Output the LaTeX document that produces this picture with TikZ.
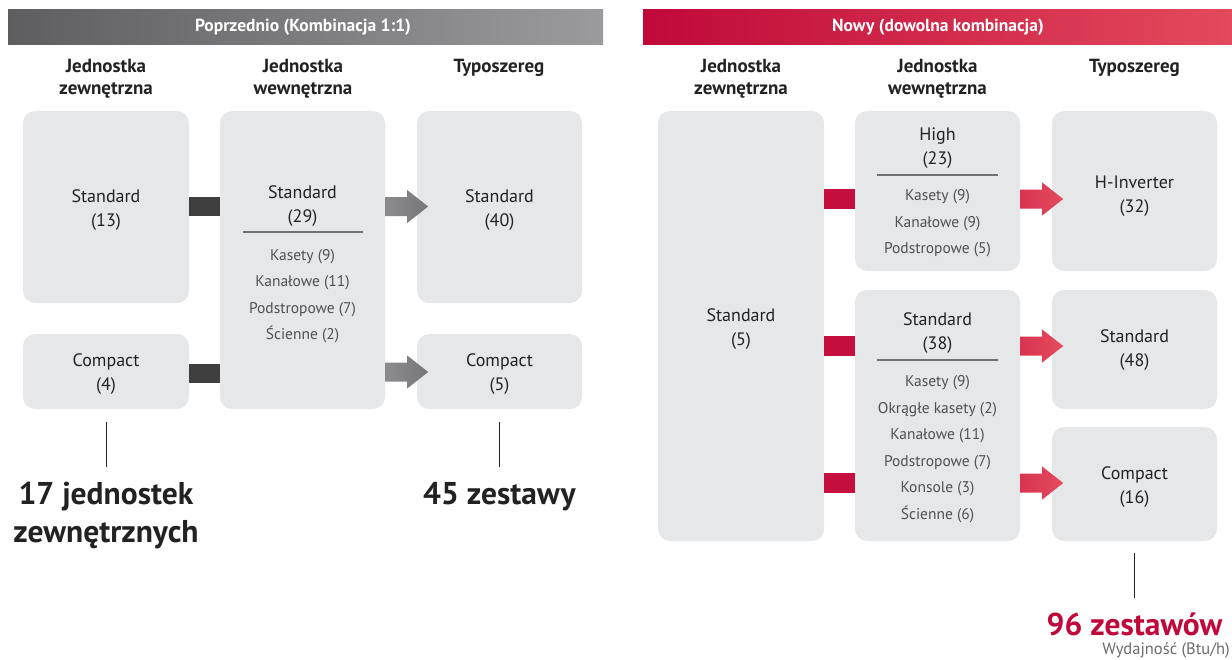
\documentclass[tikz,border=0pt]{standalone}
\usepackage{fontspec}
\setmainfont{PT Sans}
\usetikzlibrary{calc}
\definecolor{boxgray}{HTML}{E6E7E9}
\definecolor{txtdark}{HTML}{222222}
\definecolor{txtitem}{HTML}{505050}
\definecolor{lgred}{HTML}{C0093A}
\definecolor{hdrdark}{HTML}{5E5E60}
\definecolor{hdrlight}{HTML}{9B9B9D}
\definecolor{hdrred1}{HTML}{C0093A}
\definecolor{hdrred2}{HTML}{E34A5C}
\definecolor{barDark}{HTML}{3F3F3F}
\definecolor{arrgray1}{HTML}{8C8C8E}
\definecolor{arrgray2}{HTML}{77777A}
\definecolor{redarr1}{HTML}{D83452}
\definecolor{redarr2}{HTML}{E54B5D}
\definecolor{redbar}{HTML}{C50F3E}
\definecolor{divline}{HTML}{707070}
\definecolor{notegray}{HTML}{6A6A6A}
\newcommand{\fatarrow}[3]{%
  \shade[left color=#2,right color=#3] (#1) ++(0,-9.5) -- ++(22,0) -- ++(0,-7) -- ++(21,16.5) -- ++(-21,16.5) -- ++(0,-7) -- ++(-22,0) -- cycle;}
\tikzset{
  unitbox/.style={fill=boxgray, rounded corners=12pt, inner sep=0pt, draw=none},
  colhead/.style={font=\fontsize{19}{22}\selectfont\bfseries, text=txtdark, align=center},
  boxlabel/.style={font=\fontsize{18}{24}\selectfont, text=txtdark, align=center},
  itemtxt/.style={font=\fontsize{15.5}{26.5}\selectfont, text=txtitem, align=center},
  hdrtxt/.style={font=\fontsize{17.5}{18}\selectfont\bfseries, text=white},
  bigtxt/.style={font=\fontsize{31.5}{38}\selectfont\bfseries, text=txtdark, align=center},
  linkbar/.style={line width=19pt, draw=barDark},
  redlink/.style={line width=20pt, draw=redbar},
  divider/.style={draw=divline, line width=1.3pt},
  leader/.style={draw=txtdark, line width=1pt},
}
\begin{document}
\begin{tikzpicture}[x=1pt,y=-1pt]
\useasboundingbox (0,0) rectangle (1232,659);
% ---------- header bars
\shade[left color=hdrdark, right color=hdrlight] (8,9) rectangle (603,44);
\node[hdrtxt] (hL) at (303,27) {Poprzednio (Kombinacja 1:1)};
\shade[left color=hdrred1, right color=hdrred2] (643,9) rectangle (1232,44);
\node[hdrtxt] (hR) at (938,27) {Nowy (dowolna kombinacja)};
% ---------- column headings
\node[colhead] (cL1) at (106,79) {Jednostka\\zewnętrzna};
\node[colhead] (cL2) at (303,79) {Jednostka\\wewnętrzna};
\node[colhead] (cL3) at (499,68) {Typoszereg};
\node[colhead] (cR1) at (741,79) {Jednostka\\zewnętrzna};
\node[colhead] (cR2) at (937.5,79) {Jednostka\\wewnętrzna};
\node[colhead] (cR3) at (1134.5,68) {Typoszereg};
% ---------- LEFT boxes
\node[unitbox, minimum width=166pt, minimum height=192pt] (lo1) at (106,207) {};
\node[boxlabel] at ($(lo1)+(0,3)$) {Standard\\(13)};
\node[unitbox, minimum width=166pt, minimum height=75pt] (lo2) at (106,371.5) {};
\node[boxlabel] at ($(lo2)+(0,2.5)$) {Compact\\(4)};
\node[unitbox, minimum width=165pt, minimum height=298pt] (li) at (302.5,260) {};
\node[boxlabel] (liT) at (302.5,206) {Standard\\(29)};
\draw[divider] (243,232) -- (363,232);
\node[itemtxt] (liI) at (302.5,296) {Kasety (9)\\Kanałowe (11)\\Podstropowe (7)\\Ścienne (2)};
\node[unitbox, minimum width=165pt, minimum height=192pt] (lt1) at (499.5,207) {};
\node[boxlabel] at ($(lt1)+(0,3)$) {Standard\\(40)};
\node[unitbox, minimum width=165pt, minimum height=75pt] (lt2) at (499.5,371.5) {};
\node[boxlabel] at ($(lt2)+(0,2.5)$) {Compact\\(5)};
% left connectors
\draw[linkbar] (lo1.east |- 0,206.5) -- (li.west |- 0,206.5);
\draw[linkbar] (lo2.east |- 0,373) -- (li.west |- 0,373);
\fatarrow{li.east |- 0,206.5}{arrgray1}{arrgray2}
\fatarrow{li.east |- 0,372}{arrgray1}{arrgray2}
% left totals
\coordinate (l1a) at (106,422);
\coordinate (l1b) at (106,467);
\draw[leader] (l1a) -- (l1b);
\node[bigtxt] (tot1) at (106,516) {17 jednostek\\zewnętrznych};
\coordinate (l2a) at (499.5,422);
\coordinate (l2b) at (499.5,467);
\draw[leader] (l2a) -- (l2b);
\node[bigtxt] (tot2) at (499.5,497) {45 zestawy};
% ---------- RIGHT boxes
\node[unitbox, minimum width=166pt, minimum height=430pt] (ro) at (741,326) {};
\node[boxlabel] at ($(ro)+(0,3)$) {Standard\\(5)};
\node[unitbox, minimum width=165pt, minimum height=160pt] (hi) at (937.5,191) {};
\node[boxlabel] at (937.5,148) {High\\(23)};
\draw[divider] (877,175) -- (998,175);
\node[itemtxt] at (937.5,223.5) {Kasety (9)\\Kanałowe (9)\\Podstropowe (5)};
\node[unitbox, minimum width=165pt, minimum height=251pt] (si) at (937.5,415.5) {};
\node[boxlabel] at (937.5,333) {Standard\\(38)};
\draw[divider] (877,360) -- (998,360);
\node[itemtxt] at (937.5,449) {Kasety (9)\\Okrągłe kasety (2)\\Kanałowe (11)\\Podstropowe (7)\\Konsole (3)\\Ścienne (6)};
\node[unitbox, minimum width=165pt, minimum height=160pt] (rt1) at (1134.5,191) {};
\node[boxlabel] at (1134.5,196) {H-Inverter\\(32)};
\node[unitbox, minimum width=165pt, minimum height=119pt] (rt2) at (1134.5,349.5) {};
\node[boxlabel] at (1134.5,350) {Standard\\(48)};
\node[unitbox, minimum width=165pt, minimum height=114pt] (rt3) at (1134.5,484) {};
\node[boxlabel] at (1134.5,487) {Compact\\(16)};
% right connectors
\draw[redlink] (ro.east |- 0,199) -- (hi.west |- 0,199);
\draw[redlink] (ro.east |- 0,346) -- (si.west |- 0,346);
\draw[redlink] (ro.east |- 0,483) -- (si.west |- 0,483);
\fatarrow{hi.east |- 0,199}{redarr1}{redarr2}
\fatarrow{si.east |- 0,346}{redarr1}{redarr2}
\fatarrow{si.east |- 0,483}{redarr1}{redarr2}
% right total
\coordinate (l3a) at (1134.5,553);
\coordinate (l3b) at (1134.5,598);
\draw[leader] (l3a) -- (l3b);
\node[bigtxt, text=lgred, inner sep=0pt] (tot3) at (1134.5,624) {96 zestawów};
\node[font=\fontsize{16.5}{18}\selectfont, text=notegray, anchor=east, inner sep=0pt] (note) at (1230,650) {Wydajność (Btu/h)};
\end{tikzpicture}
\end{document}
